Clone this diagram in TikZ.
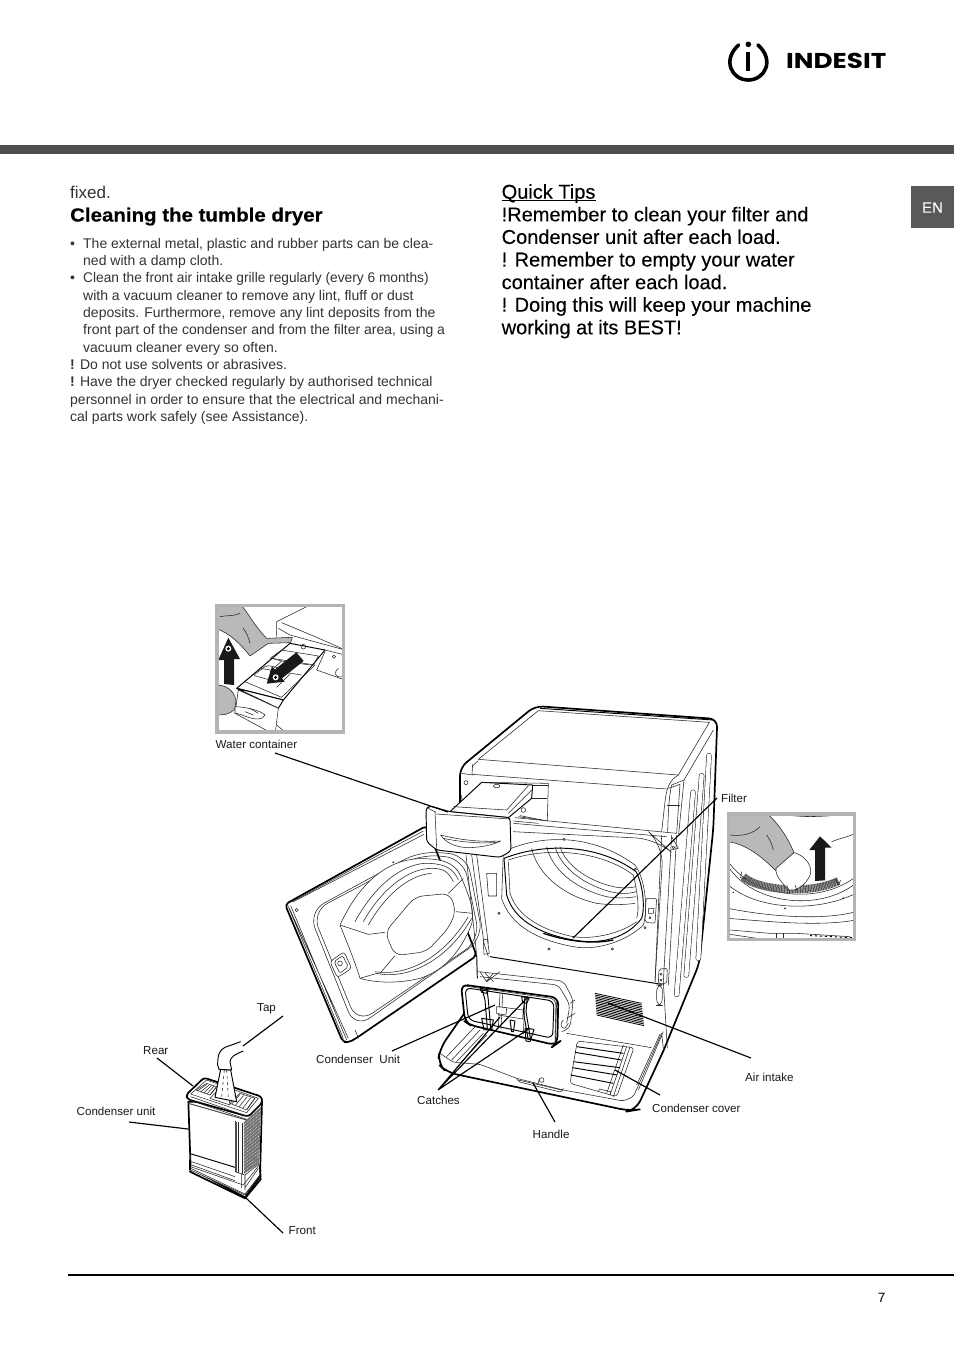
\documentclass[tikz,border=0pt]{standalone}
\usepackage{fontspec}
\usepackage{graphicx}
\setmainfont{Liberation Sans}
\newfontfamily\logofont{Poppins}
\newfontfamily\tipsfont{Liberation Sans}[FakeBold=0.2]
\newfontfamily\heavyfont{Liberation Sans}[BoldFeatures={FakeBold=0.3}]
\definecolor{barc}{HTML}{4D4E50}
\definecolor{enc}{HTML}{58595B}
\definecolor{framec}{HTML}{B4B4B4}
\definecolor{handc}{HTML}{B9B9B9}
\definecolor{txt}{HTML}{333333}
\usetikzlibrary{calc}
\tikzset{
 thn/.style={line width=.55pt,black!85,line join=round},
 med/.style={line width=.95pt,black,line join=round},
 thk/.style={line width=1.7pt,black,line join=round,line cap=round},
 leader/.style={line width=1.15pt,black},
 lbl/.style={font=\fontsize{11.6}{13}\selectfont,anchor=west,inner sep=0pt,text=black!90,yshift=-.7pt},
 ventout/.style={line width=5.4pt,black!85,line cap=round},
 ventin/.style={line width=4.3pt,white,line cap=round},
 zoomA/.style={x=.33333pt,y=-.33333pt,xshift=280pt,yshift=-695pt},
 zoomB/.style={x=.33333pt,y=-.33333pt,xshift=60pt,yshift=-990pt},
 zoomC/.style={x=.33333pt,y=-.33333pt,xshift=210pt,yshift=-600pt},
 zoomD/.style={x=.33333pt,y=-.33333pt,xshift=720pt,yshift=-805pt},
 zoomL/.style={x=.33333pt,y=-.33333pt,xshift=720pt,yshift=-30pt},
 body/.style={anchor=north west,inner sep=0pt,align=left,text=txt,font=\fontsize{14}{17.3}\selectfont},
 tips/.style={anchor=north west,inner sep=0pt,align=left,text=black,font=\tipsfont\fontsize{20}{22.6}\selectfont},
}
\begin{document}
\begin{tikzpicture}[x=1pt,y=-1pt]
\useasboundingbox (0,0) rectangle (954,1350);
\fill[white] (0,0) rectangle (954,1350);
% page furniture
\fill[barc] (0,145) rectangle (954,154);
\fill[enc] (911,186) rectangle (954,228);
\node[inner sep=0pt,text=white,font=\tipsfont\fontsize{15}{16}\selectfont] (en) at (932.5,207.5) {EN};
\draw[line width=1.6pt] (68,1275) -- (954,1275);
\node[inner sep=0pt,font=\fontsize{13.5}{16}\selectfont] (pageno) at (881.5,1297.5) {7};
% logo
\begin{scope}[zoomL]
\draw[line width=3.6pt,line cap=round] (56,45) .. controls (5,90) and (35,150) .. (85,150) .. controls (135,150) and (165,90) .. (114,45);
\fill (85,43) circle[radius=8.5];
\draw[line width=4.2pt] (85,66) -- (85,122);
\end{scope}
\node[inner sep=0pt,anchor=base west,font=\logofont\bfseries\fontsize{21.5}{24}\selectfont] (logo) at (786,68.5) {\scalebox{1.22}[1]{INDESIT}};
% left column
\node[anchor=base west,inner sep=0pt,text=txt,font=\fontsize{17}{20}\selectfont] (fixed) at (70,198) {fixed.};
\node[anchor=base west,inner sep=0pt,text=black,font=\heavyfont\bfseries\fontsize{19}{22}\selectfont] (clean) at (70,221.5) {\scalebox{1.077}[1]{Cleaning the tumble dryer}};
\node[body] (bodytext) at (70,238) {%
\makebox[13pt][l]{•}The external metal, plastic and rubber parts can be clea-\\
\hspace*{13pt}ned with a damp cloth.\\
\makebox[13pt][l]{•}\scalebox{.98}[1]{Clean the front air intake grille regularly (every 6 months)}\\
\hspace*{13pt}with a vacuum cleaner to remove any lint, fluff or dust\\
\hspace*{13pt}deposits. Furthermore, remove any lint deposits from the\\
\hspace*{13pt}front part of the condenser and from the filter area, using a\\
\hspace*{13pt}vacuum cleaner every so often.\\
\textbf{!} Do not use solvents or abrasives.\\
\textbf{!} Have the dryer checked regularly by authorised technical\\
personnel in order to ensure that the electrical and mechani-\\
cal parts work safely (see Assistance).};
\node[tips] (tipstext) at (501.5,184) {%
\rlap{\rule[-2.6pt]{94pt}{1.3pt}}Quick Tips\\
!Remember to clean your filter and\\
Condenser unit after each load.\\
! Remember to empty your water\\
container after each load.\\
! Doing this will keep your machine\\
working at its BEST!};
% ---------- inset 1
\begin{scope}[zoomC]
\clip (17,15) rectangle (402,397);
\draw[thn,fill=white] (200,65) -- (290,20) (200,65) -- (200,110);
\draw[thn] (215,68) .. controls (280,95) and (340,120) .. (405,150);
\draw[thn] (205,85) -- (240,105) -- (405,150);
\draw[thn] (345,150) -- (405,165) (345,155) -- (320,210) -- (405,240);
\draw[thn] (372,170) circle[radius=5];
\draw[thn] (385,205) .. controls (370,215) and (375,235) .. (395,230);
% tray
\draw[med,fill=white] (80,265) -- (240,130) -- (345,150) -- (220,300) -- cycle;
\draw[thn] (105,245) -- (185,175) -- (315,195) -- (215,292) -- cycle;
\draw[thn] (180,175) -- (215,150) -- (325,168) -- (310,195);
\draw[thn] (150,205) -- (275,225) (185,175) -- (215,183) -- (180,215);
\draw[thn] (215,183) -- (300,195) (240,222) -- (200,262);
\draw[thn,rounded corners=2] (130,226) -- (170,196) -- (215,205) -- (180,240) -- cycle;
\draw[thn] (280,140) circle[radius=7];
% tray front
\draw[med,fill=white] (80,265) -- (205,325) -- (220,300) -- (80,265);
\draw[thn,fill=white] (85,270) -- (75,340) -- (195,405) -- (205,325) -- cycle;
\draw[thn] (200,375) -- (230,400);
% hands
\draw[thn,fill=handc] (17,17) -- (95,17) .. controls (115,40) and (135,80) .. (170,115) -- (247,112) -- (242,128) -- (175,130) -- (120,168) .. controls (90,130) and (60,100) .. (17,85) -- cycle;
\draw[thn] (30,50) .. controls (50,45) and (70,50) .. (90,40) (100,85) .. controls (110,100) and (115,110) .. (120,130);
\draw[thn,fill=handc] (17,255) .. controls (50,255) and (70,270) .. (78,300) -- (75,325) .. controls (60,345) and (40,345) .. (17,345) -- cycle;
\draw[thn,fill=white] (75,320) .. controls (100,320) and (150,330) .. (165,345) .. controls (160,360) and (135,360) .. (110,350) .. controls (95,345) and (85,340) .. (75,340) -- cycle;
\draw[thn] (120,325) -- (145,340) (105,335) -- (130,345);
% arrows
\fill[black!90] (42,252) -- (42,180) -- (25,180) -- (55,113) -- (90,177) -- (72,177) -- (72,255) -- cycle;
\fill[white] (55,146) circle[radius=9];
\fill[black] (55,146) circle[radius=5];
\fill[black!90] (259,157) -- (281,183) -- (216,235) -- (224,245) -- (170,251) -- (186,199) -- (194,209) -- cycle;
\fill[white] (197,232) circle[radius=9];
\fill[black] (197,232) circle[radius=5];
\end{scope}
\draw[framec,line width=3.2pt] (217,605.5) rectangle (343.5,732);
% ---------- inset 2
\begin{scope}[zoomD]
\clip (25,25) rectangle (407,405);
\draw[thn] (200,30) .. controls (260,38) and (320,35) .. (400,25);
\draw[thn] (335,110) .. controls (360,100) and (385,95) .. (407,85);
\draw[thn] (25,170) .. controls (100,280) and (300,300) .. (407,215);
\draw[thn] (25,185) .. controls (100,300) and (300,320) .. (407,235);
\draw[thn] (25,240) .. controls (120,320) and (300,320) .. (407,265);
\draw[thn] (25,310) .. controls (120,330) and (300,350) .. (407,320);
\draw[thn] (25,340) .. controls (150,350) and (300,365) .. (407,345);
\draw[black!68,line width=8pt,dash pattern=on 1.1pt off .5pt] (70,215) .. controls (110,255) and (270,270) .. (355,228);
\draw[thn] (65,200) -- (62,218) -- (80,222) (348,222) -- (355,240) -- (362,225);
\draw[thn] (40,262) circle[radius=1.5];
\draw[thn] (195,310) circle[radius=2];
\draw[thn] (370,280) circle[radius=2];
\draw[thn] (30,375) -- (150,385) -- (230,385) -- (390,395);
\draw[thn] (30,388) -- (110,400);
\draw[thn] (170,385) -- (170,405) (190,385) -- (190,405);
\draw[line width=1pt,dash pattern=on 2pt off 3pt] (270,392) -- (400,398);
% hand
\draw[thn,fill=handc] (25,25) -- (140,25) .. controls (170,50) and (200,90) .. (222,143) -- (170,190) -- (170,200) .. controls (140,170) and (90,120) .. (25,110) -- cycle;
\draw[thn,fill=white] (222,143) .. controls (250,150) and (275,175) .. (272,205) .. controls (265,230) and (240,250) .. (222,255) -- (205,255) .. controls (190,235) and (165,215) .. (168,190) -- cycle;
\draw[thn] (200,240) -- (210,265) (225,240) -- (232,258);
\draw[thn] (30,90) .. controls (70,95) and (100,85) .. (120,65) (140,90) .. controls (150,105) and (155,115) .. (160,135);
\fill[black!90] (285,228) -- (285,135) -- (268,135) -- (300,94) -- (335,128) -- (315,128) -- (315,226) -- cycle;
\end{scope}
\draw[framec,line width=3.2pt] (728.5,814) rectangle (854.5,939.5);
% ---------- condenser unit (small)
\begin{scope}[zoomB]
\draw[thk,fill=white] (385,335) -- (392,535) -- (555,622) -- (600,560) -- (606,335) -- cycle;
\fill[black!55] (552,395) -- (603,350) -- (598,520) -- (552,552) -- cycle;
\foreach \k in {0,1,...,16} \draw[white,line width=.35pt,dash pattern=on 1pt off 1pt] ($(552,395)!{\k/16}!(552,552)$) -- ($(603,350)!{\k/16}!(598,520)$);
\draw[med] (388,490) -- (525,532);
\draw[thn] (525,393) -- (525,545) (535,396) -- (535,550) (548,400) -- (548,552);
\draw[line width=1.4pt,black!70] (528,395) -- (528,545);
\draw[thn,fill=white] (392,495) -- (392,530) -- (550,585) -- (598,525) -- (600,555) -- (555,615) -- (392,540) -- cycle;
\draw[thn] (395,515) -- (525,560) (395,525) -- (525,572);
\draw[thn] (525,545) -- (555,555) -- (597,522) (545,552) -- (545,595) (555,555) -- (555,600) (595,535) -- (556,592);
\draw[thk] (390,540) -- (390,510);
\draw[thk] (390,545) -- (555,625) -- (602,568) -- (600,530);
\draw[thn] (392,535) -- (555,612) -- (600,555);
% top
\draw[thk,fill=white,rounded corners=3] (378,315) -- (432,263) -- (605,320) -- (607,338) -- (565,380) -- (383,328) -- cycle;
\draw[thn,fill=white] (392,312) -- (440,270) -- (595,325) -- (560,368) -- cycle;
\draw[thn] (392,320) -- (560,378);
\draw[thn] (388,330) -- (560,388);
\draw[line width=1pt,black!70] (385,340) -- (560,390);
\draw[thn] (408,300) -- (440,280) -- (470,290) -- (450,315) -- cycle;
\draw[thn] (510,340) -- (540,310) -- (585,325) -- (560,360) -- cycle;
\foreach \k in {0,1,2,3,4} {
 \draw[thn] ($(412,303)!{\k/4}!(450,315)$) -- ($(440,283)!{\k/4}!(470,290)$);
 \draw[thn] ($(515,342)!{\k/4}!(560,358)$) -- ($(540,313)!{\k/4}!(583,327)$);
}
\draw[thn] (450,325) -- (475,300) -- (505,310) -- (510,345) -- cycle;
% tap
\draw[med,fill=white] (482,238) -- (465,322) -- (530,335) -- (512,240) -- cycle;
\draw[thn,dashed] (493,240) -- (485,320) (500,240) -- (505,325);
\draw[med,fill=white] (542,155) -- (495,172) .. controls (478,180) and (473,195) .. (473,225) -- (477,238) -- (515,240) -- (510,215) .. controls (512,200) and (525,193) .. (550,183);
\end{scope}
% ---------- dryer
\begin{scope}[zoomA]
% body fill
\fill[white] (540,220) -- (765,33) -- (1312,72) -- (1258,800) -- (1150,1068) -- (590,850) -- cycle;
% door
\draw[thk,fill=white,rounded corners=4] (15,628) -- (440,392) -- (590,782) -- (228,1030) -- (205,1043) -- (188,1040) -- cycle;
\draw[thn] (32,622) -- (430,408) (32,632) -- (200,1035) (22,628) -- (190,1030) (28,640) -- (205,1030);
\draw[thn] (225,1005) -- (236,1030);
\draw[thn] (40,620) -- (432,418);
\draw[thn] (50,645) circle[radius=5];
\draw[thn,rounded corners=18] (85,650) -- (420,468) -- (560,480) -- (610,730) -- (225,1000) -- cycle;
\draw[thn,rounded corners=18] (95,650) -- (420,478) -- (550,490) -- (600,735) -- (232,985) -- cycle;
\draw[thn] (340,502) circle[radius=2];
% door seal
\draw[thn,fill=white] (180,690) .. controls (240,560) and (330,480) .. (450,492) .. controls (500,495) and (530,510) .. (545,550) .. controls (570,610) and (590,660) .. (570,700) .. controls (530,790) and (480,830) .. (420,850) .. controls (360,865) and (290,865) .. (240,850) .. controls (225,800) and (200,740) .. (180,690) -- cycle;
\draw[thn] (225,680) .. controls (290,560) and (380,500) .. (450,505) .. controls (495,508) and (520,520) .. (535,555);
\draw[thn] (250,680) .. controls (300,590) and (380,520) .. (455,520) .. controls (490,520) and (505,530) .. (520,560);
\draw[thn] (265,690) .. controls (310,610) and (380,540) .. (455,535);
\draw[thn] (240,850) -- (290,835) .. controls (380,855) and (500,800) .. (575,670);
\draw[thn] (285,830) .. controls (380,845) and (490,790) .. (565,665);
\draw[thn,fill=white,rounded corners=8] (315,712) -- (405,605) -- (510,595) -- (528,650) -- (505,700) -- (440,770) -- (345,782) -- cycle;
\draw[thn] (180,690) -- (265,718) -- (315,712) (345,782) -- (300,835) (505,595) -- (550,550) (528,650) -- (578,655);
\draw[thn,fill=white,rounded corners=3] (150,800) -- (192,770) -- (215,820) -- (172,848) -- cycle;
\draw[thn,rounded corners=2] (162,800) -- (188,782) -- (205,815) -- (180,835) -- cycle;
\draw[thn] (180,805) circle[radius=7];
% top surface
\draw[thk,rounded corners=8] (540,340) -- (540,218) -- (765,33) -- (1312,72) -- (1300,400) -- (1258,805) -- (1150,1068);
\draw[thn] (595,193) -- (775,47) -- (1288,82) -- (1195,240) -- cycle;
\draw[thn] (578,212) -- (595,197);
\draw[med] (780,40) -- (1300,75);
\draw[thn] (578,208) -- (576,238) -- (1160,282);
\draw[thn] (1195,240) .. controls (1170,255) and (1160,275) .. (1155,320) -- (1145,410);
\draw[thn] (1200,268) -- (1165,280) (1200,268) -- (1190,415) (1175,270) .. controls (1168,300) and (1165,340) .. (1163,410);
\draw[thn] (1300,105) -- (1212,255) -- (1196,418);
\draw[thn] (1160,330) -- (1200,330);
\draw[thn] (1212,255) -- (1175,270);
\draw[thn] (545,235) -- (578,240) (545,300) -- (548,400);
\draw[thn] (558,263) circle[radius=6];
% side vents
\draw[ventout] (1287,182) -- (1255,790);
\draw[ventin] (1287,182) -- (1255,790);
\draw[ventout] (1265,242) -- (1219,840);
\draw[ventin] (1265,242) -- (1219,840);
\draw[ventout] (1239,292) -- (1190,898);
\draw[ventin] (1239,292) -- (1190,898);
% front panel
\draw[thn] (705,368) -- (1190,415);
\draw[thn] (700,385) -- (1160,425);
\draw[thn] (1175,420) -- (1150,860) -- (1162,1060) (1190,420) -- (1165,870);
\draw[thn] (1145,420) -- (1125,860);
\draw[thn] (1175,425) -- (1195,460) -- (1172,465);
\draw[thn] (1180,457) circle[radius=4];
\draw[thn] (558,480) -- (590,780) (575,480) -- (612,745) -- (625,785) (590,480) -- (625,745);
\draw[med] (590,780) -- (592,850);
\draw[med] (630,785) -- (1145,868);
\draw[thn] (610,735) -- (622,732) -- (628,775) -- (612,778) -- cycle;
\draw[thn] (620,535) -- (650,535) -- (650,603) -- (625,603) -- cycle;
% opening frame
\draw[thn,rounded corners=20] (700,410) -- (1130,432) -- (1150,450) -- (1125,860);
\draw[thn] (670,470) .. controls (800,410) and (950,425) .. (1065,510) .. controls (1095,550) and (1105,640) .. (1090,690) .. controls (1050,730) and (960,770) .. (880,755) .. controls (770,735) and (690,690) .. (665,610) -- (670,470);
% opening
\draw[med,fill=white] (672,490) .. controls (800,440) and (960,450) .. (1068,530) .. controls (1090,570) and (1095,640) .. (1085,670) .. controls (1040,730) and (960,750) .. (880,735) .. controls (770,715) and (700,670) .. (680,600) -- cycle;
\draw[thn] (685,495) .. controls (800,455) and (960,465) .. (1060,540) .. controls (1070,580) and (1080,640) .. (1070,670) (685,500) -- (690,595) .. controls (710,660) and (780,705) .. (880,725) .. controls (950,735) and (1030,710) .. (1070,680);
\draw[thn] (755,460) .. controls (770,530) and (840,600) .. (950,625) .. controls (985,630) and (1030,630) .. (1065,625);
\draw[thn] (800,455) .. controls (815,520) and (880,580) .. (980,605) .. controls (1010,610) and (1040,610) .. (1068,605);
\draw[thn] (825,455) .. controls (840,510) and (900,565) .. (990,590) .. controls (1020,597) and (1045,597) .. (1068,590);
\draw[thn] (840,455) .. controls (855,505) and (915,555) .. (1000,575) .. controls (1025,580) and (1045,580) .. (1068,575);
\draw[line width=1.3pt] (790,715) .. controls (850,735) and (930,750) .. (1000,735);
\foreach \p in {(852,433),(1066,523),(1095,698),(997,762),(807,762),(657,655)} \draw[thn,fill=black!25] \p circle[radius=3.5];
\draw[thn,rounded corners=2] (1098,610) -- (1130,610) -- (1125,685) -- (1095,682) -- cycle;
\draw[thn] (1106,640) -- (1122,640) -- (1120,655) -- (1105,655) -- cycle (1110,668) circle[radius=3];
% right hinges
\draw[thn,rounded corners=2] (1137,822) -- (1162,820) -- (1160,865) -- (1135,865) -- cycle;
\draw[thn] (1143,838) circle[radius=3] (1143,856) circle[radius=3];
\draw[thn,rounded corners=6] (1130,870) -- (1148,870) -- (1146,932) -- (1130,932) -- cycle;
% condenser compartment rear
\draw[thn,rounded corners=5] (595,830) -- (850,858) -- (880,915) -- (870,1000) -- (845,1010);
\draw[thn,rounded corners=5] (600,845) -- (835,870) -- (870,930) -- (860,985);
\draw[thn] (600,830) -- (620,860) -- (660,830) (615,835) -- (640,860) (640,835) -- (620,858);
\draw[thn] (870,925) -- (885,915) (860,970) -- (885,955) (850,975) .. controls (840,985) and (840,1000) .. (855,1000) -- (865,985);
% grille
\foreach \k in {0,1,...,13} \draw[line width=.8pt] ($(945,895)!{\k/13}!(950,960)$) -- ($(1085,925)!{\k/13}!(1092,992)$);
% cover
\draw[thk,rounded corners=10] (555,952) -- (480,1060) -- (473,1105) -- (500,1132) -- (1050,1248) -- (1068,1245) -- (1150,1068);
\draw[thn,rounded corners=3] (480,1075) -- (520,1102) -- (600,1108) -- (710,1150) -- (850,1185) -- (1030,1218) -- (1060,1205) -- (1145,1015);
\draw[thn] (1145,1015) -- (1150,1060) (1140,1018) -- (1070,1170) (1150,1010) -- (1075,1185);
\draw[thn] (860,1015) -- (1115,1058);
\draw[thn] (500,1085) -- (590,990) (515,1095) -- (600,1005) (530,1100) -- (610,1015) (545,1100) -- (620,1020);
\draw[thn,rounded corners=2] (710,1150) -- (715,1160) -- (845,1192) -- (850,1180);
\draw[thn] (715,1155) -- (845,1185);
\draw[thn] (785,1155) circle[radius=7] (775,1165) -- (778,1150);
% cover vents
\draw[thn,rounded corners=3] (892,1038) -- (1062,1058) -- (1010,1205) -- (870,1165) -- cycle;
\draw[thn] (1050,1055) -- (1000,1205) (1040,1055) -- (990,1200) (1030,1050) -- (980,1195);
\draw[med] (890,1055) -- (1030,1075) (885,1072) -- (1025,1095) (880,1100) -- (1020,1118) (877,1118) -- (1012,1140) (872,1140) -- (1000,1165);
\draw[thn] (955,1190) -- (958,1182) -- (992,1190) -- (990,1200);
% condenser unit
\draw[thk,fill=white,rounded corners=7] (543,868) -- (835,908) -- (832,1045) -- (825,1050) -- (570,990) -- (555,980) -- cycle;
\draw[med,rounded corners=6] (555,878) -- (822,918) -- (818,1030) -- (565,975) -- cycle;
\draw[thn,rounded corners=6] (548,872) -- (828,912) -- (825,1040);
\draw[thn] (830,915) -- (826,1045);
\draw[thn] (660,895) -- (655,1000) (668,897) -- (663,1002);
\draw[thn] (735,905) -- (730,1018);
\draw[thn] (655,935) -- (730,945) -- (728,972) -- (655,960) -- cycle;
\draw[thn,fill=white] (650,935) -- (680,938) -- (678,960) -- (650,955) -- cycle;
% catches
\draw[med] (605,878) -- (615,915) -- (622,1000);
\draw[med] (620,878) -- (625,915) -- (632,1000);
\draw[med] (735,905) -- (730,950) -- (745,1035);
\draw[med] (742,905) -- (738,950) -- (752,1035);
\draw[med] (600,880) -- (625,885) -- (620,895) -- (605,892) -- cycle;
\draw[med] (605,970) -- (640,975) -- (635,1005) -- (612,1005) -- cycle;
\draw[med] (690,975) -- (705,978) -- (700,1010) -- (695,1010) -- cycle;
\draw[med] (725,905) -- (748,908) -- (740,925) -- (728,922) -- cycle;
\draw[med] (735,1000) -- (762,1003) -- (750,1040) -- (738,1038) -- cycle;
% water container
\draw[med,fill=white] (510,350) -- (605,262) -- (758,270) -- (755,310) -- (685,368) -- cycle;
\draw[thn] (605,262) -- (805,265) -- (802,378) -- (720,362);
\draw[thn] (758,270) -- (805,270) (755,310) -- (800,310);
\draw[thn] (745,272) -- (680,345) (755,285) -- (685,355) (680,345) -- (520,335);
\draw[thn] (650,273) ellipse[x radius=10,y radius=5];
\draw[thn] (730,345) circle[radius=7];
\draw[thn] (715,365) -- (785,375) (700,378) -- (775,385);
\draw[med,fill=white,rounded corners=3] (438,340) -- (450,333) -- (510,350) -- (690,368) -- (693,468) -- (660,487) -- (470,465) -- (440,440) -- cycle;
\draw[thn] (468,357) -- (690,372);
\draw[thn] (465,350) -- (470,460);
\draw[thn] (445,340) -- (468,352);
\draw[thn] (460,335) -- (500,350);
\draw[thn,fill=white] (482,420) .. controls (560,440) and (620,440) .. (662,438) .. controls (640,450) and (600,458) .. (560,458) .. controls (520,455) and (495,440) .. (482,420) -- cycle;
\draw[thn] (490,430) .. controls (560,445) and (620,445) .. (650,442);
\end{scope}
% ---------- labels
\node[lbl] (lwater) at (215.5,744) {Water container};
\node[lbl] (lfilter) at (721,798) {Filter};
\node[lbl] (lair) at (745,1077) {Air intake};
\node[lbl] (lcover) at (652,1108) {Condenser cover};
\node[lbl] (lhandle) at (532.5,1134) {Handle};
\node[lbl] (lcatches) at (417,1100) {Catches};
\node[lbl] (lcunit) at (316,1059) {Condenser\ \ Unit};
\node[lbl] (ltap) at (257,1008) {Tap};
\node[lbl] (lrear) at (143,1050) {Rear};
\node[lbl] (lunit) at (76.5,1111) {Condenser unit};
\node[lbl] (lfront) at (288.5,1230) {Front};
% leader ends
\coordinate (wa) at (275,753); \coordinate (wb) at (448,812);
\coordinate (fa) at (717,798); \coordinate (fb) at (573,938);
\coordinate (aa) at (751,1058); \coordinate (ab) at (608,1003);
\coordinate (ca) at (660,1095); \coordinate (cb) at (615,1070);
\coordinate (ha) at (555,1122); \coordinate (hb) at (533,1083);
\coordinate (ka) at (438,1090); \coordinate (kb) at (500,1017); \coordinate (kc) at (528,997); \coordinate (kd) at (530,1028);
\coordinate (ua) at (392,1051); \coordinate (ub) at (495,1005);
\coordinate (ta) at (283,1016); \coordinate (tb) at (243,1046);
\coordinate (ra) at (157,1058); \coordinate (rb) at (193,1086);
\coordinate (na) at (129,1122); \coordinate (nb) at (188,1129);
\coordinate (oa) at (283,1233); \coordinate (ob) at (246,1198);
\draw[leader] (wa) -- (wb);
\draw[leader] (fa) -- (fb);
\draw[leader] (aa) -- (ab);
\draw[leader] (ca) -- (cb);
\draw[leader] (ha) -- (hb);
\draw[leader] (ka) -- (kb) (ka) -- (kc) (ka) -- (kd);
\draw[leader] (ua) -- (ub);
\draw[leader] (ta) -- (tb);
\draw[leader] (ra) -- (rb);
\draw[leader] (na) -- (nb);
\draw[leader] (oa) -- (ob);
\end{tikzpicture}
\end{document}
